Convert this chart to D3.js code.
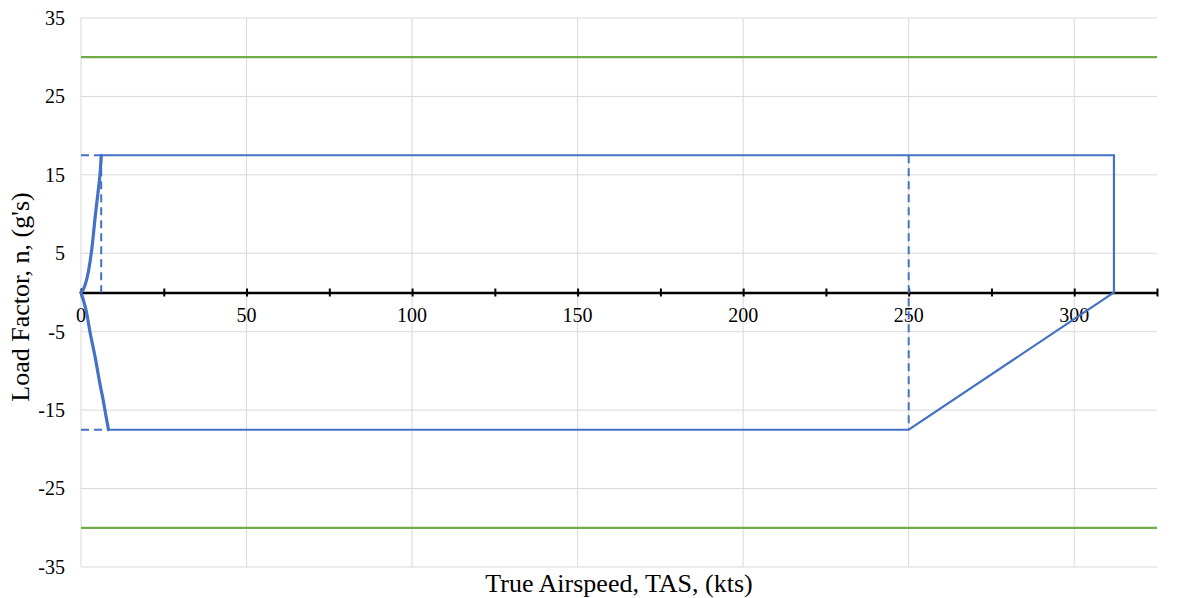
<!DOCTYPE html>
<html>
<head>
<meta charset="utf-8">
<script src="https://cdn.jsdelivr.net/npm/d3@7"></script>
<style>
  html, body { margin: 0; padding: 0; background: #fff; }
  svg text { font-family: "Liberation Serif", "Times New Roman", serif; fill: #000; }
</style>
</head>
<body>
<svg id="chart" width="1180" height="598"></svg>
<script>
// V-n envelope: true airspeed (kts) vs load factor (g's)
const xTicksMajor = [0, 50, 100, 150, 200, 250, 300];
const xTicksMinor = [0, 25, 50, 75, 100, 125, 150, 175, 200, 225, 250, 275, 300, 325];
const yTicks = [35, 25, 15, 5, -5, -15, -25, -35];

// positive stall boundary
const posStall = [[0, 0], [0.7, 0.4], [1.9, 2], [3.1, 5], [4.4, 10.1], [5.73, 15], [6.1, 17.5]];
// negative stall boundary
const negStall = [[0, 0], [1.5, -2.2], [2.7, -5], [4.3, -8.3], [5.7, -11.6], [6.6, -13.5], [7.4, -15.4], [8.3, -17.5]];
// structural limits and dive speed
const envelope = [[6.1, 17.5], [312, 17.5], [312, 0], [250, -17.5], [8.3, -17.5]];
// dashed guides
const dashedGuides = [
  [[0, 17.5], [6.1, 17.5]],
  [[6.1, 17.5], [6.1, 0]],
  [[0, -17.5], [8.3, -17.5]],
  [[250, 17.5], [250, -17.5]]
];
// ultimate load lines
const ultimateLoads = [30, -30];

const svg = d3.select("#chart");
const margin = { left: 81, right: 23, top: 18, bottom: 31 };
const W = 1180, H = 598;

const x = d3.scaleLinear().domain([0, 325]).range([margin.left, W - margin.right]);
const y = d3.scaleLinear().domain([-35, 35]).range([H - margin.bottom, margin.top]);

const blue = "#4472C4", green = "#70AD47", grid = "#D9D9D9";
const serif = "'Liberation Serif', 'Times New Roman', serif";

// gridlines
svg.append("g")
  .selectAll("line")
  .data(yTicks)
  .join("line")
  .attr("x1", x(0)).attr("x2", x(325))
  .attr("y1", d => y(d)).attr("y2", d => y(d))
  .attr("stroke", grid).attr("stroke-width", 1);

svg.append("g")
  .selectAll("line")
  .data(xTicksMajor)
  .join("line")
  .attr("x1", d => x(d)).attr("x2", d => x(d))
  .attr("y1", y(35)).attr("y2", y(-35))
  .attr("stroke", grid).attr("stroke-width", 1);

// y tick labels
const yAxis = d3.axisLeft(y).tickValues(yTicks).tickSize(0).tickPadding(16)
  .tickFormat(d => String(d));
const gy = svg.append("g").attr("transform", `translate(${x(0)},0)`).call(yAxis)
  .attr("font-family", serif).attr("font-size", 20);
gy.select(".domain").remove();
gy.selectAll("text").attr("fill", "#000");

// ultimate load lines
svg.append("g")
  .selectAll("line")
  .data(ultimateLoads)
  .join("line")
  .attr("x1", x(0)).attr("x2", x(325))
  .attr("y1", d => y(d)).attr("y2", d => y(d))
  .attr("stroke", green).attr("stroke-width", 2.2);

// x axis through n = 0
const xAxis = d3.axisBottom(x).tickValues(xTicksMinor).tickSize(0).tickFormat("");
const gx = svg.append("g").attr("transform", `translate(0,${y(0)})`).call(xAxis);
gx.select(".domain").attr("stroke", "#000").attr("stroke-width", 2.4);
gx.selectAll(".tick line").remove();
gx.selectAll(".tick").append("line")
  .attr("y1", -4).attr("y2", 4)
  .attr("stroke", "#000").attr("stroke-width", 2);

svg.append("g")
  .selectAll("text")
  .data(xTicksMajor)
  .join("text")
  .attr("x", d => x(d))
  .attr("y", y(0) + 29)
  .attr("text-anchor", "middle")
  .style("font-size", "20px")
  .text(d => String(d));

const line = d3.line().x(d => x(d[0])).y(d => y(d[1]));

// dashed guides
svg.append("g")
  .selectAll("path")
  .data(dashedGuides)
  .join("path")
  .attr("d", line)
  .attr("fill", "none")
  .attr("stroke", blue).attr("stroke-width", 2)
  .attr("stroke-dasharray", "8,5");

// envelope
svg.append("path")
  .attr("d", line(envelope))
  .attr("fill", "none")
  .attr("stroke", blue).attr("stroke-width", 2.2)
  .attr("stroke-linejoin", "miter");

// stall curves
const curve = d3.line().x(d => x(d[0])).y(d => y(d[1])).curve(d3.curveCatmullRom.alpha(0.5));
[posStall, negStall].forEach(s => {
  svg.append("path")
    .attr("d", curve(s))
    .attr("fill", "none")
    .attr("stroke", blue).attr("stroke-width", 3.2)
    .attr("stroke-linecap", "round");
});

// axis titles
svg.append("text")
  .attr("x", (x(0) + x(325)) / 2)
  .attr("y", 592)
  .attr("text-anchor", "middle")
  .style("font-size", "26px")
  .text("True Airspeed, TAS, (kts)");

svg.append("text")
  .attr("transform", `translate(29,297) rotate(-90)`)
  .attr("text-anchor", "middle")
  .style("font-size", "26px")
  .text("Load Factor, n, (g's)");
</script>
</body>
</html>
